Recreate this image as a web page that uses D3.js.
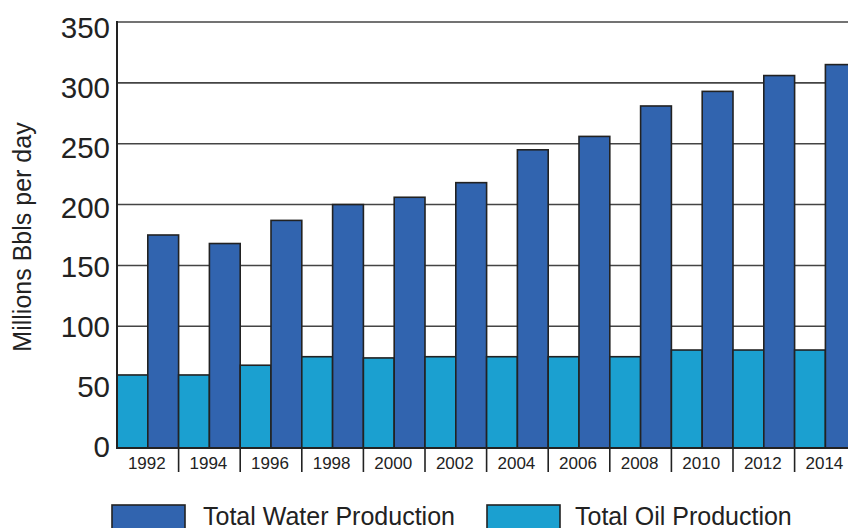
<!DOCTYPE html>
<html>
<head>
<meta charset="utf-8">
<script src="https://cdn.jsdelivr.net/npm/d3@7"></script>
<style>
  html, body { margin: 0; padding: 0; background: #fff; }
  svg { display: block; }
  text { font-family: "Liberation Sans", Arial, Helvetica, sans-serif; fill: #222; }
</style>
</head>
<body>
<svg id="chart" width="848" height="528"></svg>
<script>
const years = ["1992","1994","1996","1998","2000","2002","2004","2006","2008","2010","2012","2014"];
const oilProduction = [60, 60, 68, 75, 74, 75, 75, 75, 75, 80.5, 80.5, 80.5];
const waterProduction = [175, 168, 187, 200, 206, 218, 245, 256, 281, 293, 306, 315];
const yTicks = [0, 50, 100, 150, 200, 250, 300, 350];
const seriesNames = ["Total Water Production", "Total Oil Production"];
const colors = { water: "#3164AF", oil: "#1BA0D0" };

const svg = d3.select("#chart");
const plotLeft = 117, plotTop = 22, plotBottom = 448;
const groupW = 61.6;
const plotRight = plotLeft + years.length * groupW;

const x = d3.scaleBand().domain(years).range([plotLeft, plotRight]).padding(0);
const sub = d3.scaleBand().domain(["oil", "water"]).range([0, x.bandwidth()]).padding(0);
const y = d3.scaleLinear().domain([0, 350]).range([plotBottom, plotTop]);
// tick label baselines (labels sit on a slightly tighter spacing than the gridlines)
const yLabel = d3.scaleLinear().domain([0, 350]).range([457, 38]);

// gridlines
svg.append("g").selectAll("line").data(yTicks.filter(d => d > 0)).join("line")
  .attr("x1", plotLeft).attr("x2", plotRight)
  .attr("y1", d => y(d)).attr("y2", d => y(d))
  .attr("stroke", "#444").attr("stroke-width", 1.6);

// y tick labels
svg.append("g").selectAll("text").data(yTicks).join("text")
  .attr("x", 110).attr("y", d => yLabel(d))
  .attr("text-anchor", "end")
  .style("font-size", "29.5px")
  .text(d => d);

// bars
const groups = svg.append("g").selectAll("g").data(years).join("g")
  .attr("transform", d => `translate(${x(d)},0)`);

groups.append("rect")
  .attr("x", sub("oil"))
  .attr("width", sub.bandwidth())
  .attr("y", (d, i) => y(oilProduction[i]))
  .attr("height", (d, i) => plotBottom - y(oilProduction[i]))
  .attr("fill", colors.oil).attr("stroke", "#222").attr("stroke-width", 1.6);

groups.append("rect")
  .attr("x", sub("water"))
  .attr("width", sub.bandwidth())
  .attr("y", (d, i) => y(waterProduction[i]))
  .attr("height", (d, i) => plotBottom - y(waterProduction[i]))
  .attr("fill", colors.water).attr("stroke", "#222").attr("stroke-width", 1.6);

// axes lines
svg.append("line").attr("x1", plotLeft).attr("x2", plotLeft).attr("y1", plotTop - 1).attr("y2", plotBottom + 1)
  .attr("stroke", "#222").attr("stroke-width", 2);
svg.append("line").attr("x1", plotLeft).attr("x2", plotRight).attr("y1", plotBottom).attr("y2", plotBottom)
  .attr("stroke", "#222").attr("stroke-width", 2.2);

// group dividers below axis
svg.append("g").selectAll("line").data(years.slice(1)).join("line")
  .attr("x1", d => x(d)).attr("x2", d => x(d))
  .attr("y1", plotBottom).attr("y2", 472)
  .attr("stroke", "#222").attr("stroke-width", 1.6);

// x labels
svg.append("g").selectAll("text").data(years).join("text")
  .attr("x", d => x(d) + x.bandwidth() / 2 - 1)
  .attr("y", 469)
  .attr("text-anchor", "middle")
  .style("font-size", "17px")
  .text(d => d);

// y axis title
svg.append("text")
  .attr("transform", "translate(31,237) rotate(-90)")
  .attr("text-anchor", "middle")
  .style("font-size", "25px")
  .text("Millions Bbls per day");

// legend
const legend = [
  { name: seriesNames[0], color: colors.water, rx: 112, tx: 203 },
  { name: seriesNames[1], color: colors.oil, rx: 487, tx: 575 }
];
const lg = svg.append("g").selectAll("g").data(legend).join("g");
lg.append("rect")
  .attr("x", d => d.rx).attr("y", 505).attr("width", 73).attr("height", 26)
  .attr("fill", d => d.color).attr("stroke", "#222").attr("stroke-width", 1.6);
lg.append("text")
  .attr("x", d => d.tx).attr("y", 525)
  .style("font-size", "25px")
  .text(d => d.name);
</script>
</body>
</html>
